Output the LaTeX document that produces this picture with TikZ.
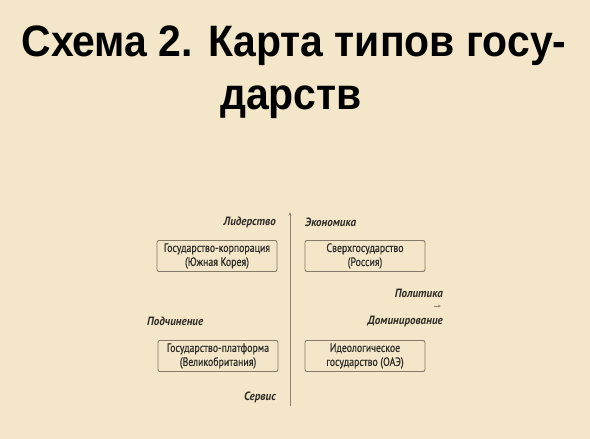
\documentclass[tikz,border=0pt]{standalone}
\usepackage{fontspec}
\usetikzlibrary{arrows.meta}
\setmainfont{Liberation Sans}
\newfontfamily\titlefont[FakeStretch=0.93]{Liberation Sans}
\newfontfamily\condfont[FakeStretch=0.82,FakeBold=0.6]{PT Sans}
\newfontfamily\labfont[FakeStretch=0.92]{PT Sans}
\definecolor{bgc}{HTML}{F3E6C9}
\definecolor{boxline}{HTML}{857A68}
\definecolor{txt}{HTML}{2F2B27}
\definecolor{axisc}{HTML}{8A8478}
\tikzset{
  tbox/.style={draw=boxline, line width=0.9pt, rounded corners=2pt, minimum width=120pt, minimum height=31pt, align=center, inner sep=1pt, font=\condfont\fontsize{12}{14}\selectfont, text=txt},
  lab/.style={font=\labfont\bfseries\itshape\fontsize{12}{12}\selectfont, text=txt, inner sep=0pt},
  ttl/.style={font=\titlefont\bfseries\fontsize{44}{48}\selectfont, text=black, inner sep=0pt}
}
\begin{document}
\begin{tikzpicture}[x=1pt,y=-1pt]
\fill[bgc] (0,0) rectangle (590,439);
\useasboundingbox (0,0) rectangle (590,439);
\node[ttl] (t1) at (294,46) {Схема 2. Карта типов госу-};
\node[ttl] (t2) at (291,102) {дарств};
\coordinate (atop) at (290,212);
\coordinate (abot) at (290,406);
\draw[axisc, line width=0.8pt, -{Stealth[length=4pt,width=3pt]}] (abot) -- (atop);
\node[lab, anchor=east] (lid) at (276,222) {Лидерство};
\node[lab, anchor=west] (eco) at (305,222) {Экономика};
\node[tbox] (b1) at (217,256) {Государство-корпорация\\(Южная Корея)};
\node[tbox] (b2) at (365,256) {Сверхгосударство\\(Россия)};
\node[lab, anchor=east] (pol) at (443,293) {Политика};
\coordinate (hs) at (434,306);
\coordinate (he) at (441,306);
\draw[axisc, line width=0.6pt, -{Stealth[length=3pt,width=2.5pt]}] (hs) -- (he);
\node[lab, anchor=east] (dom) at (443,321) {Доминирование};
\node[lab, anchor=west] (pod) at (147,321) {Подчинение};
\node[tbox] (b3) at (218,356) {Государство-платформа\\(Великобритания)};
\node[tbox] (b4) at (365,356) {Идеологическое\\государство (ОАЭ)};
\node[lab, anchor=east] (ser) at (276,397) {Сервис};
\end{tikzpicture}
\end{document}
